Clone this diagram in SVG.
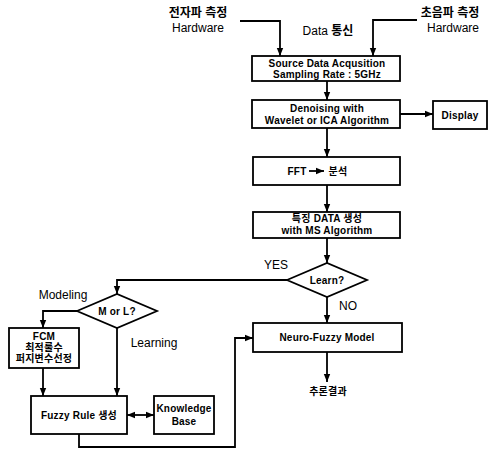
<svg xmlns="http://www.w3.org/2000/svg" width="489" height="450" viewBox="0 0 489 450">
<style>
.box{fill:#fff;stroke:#000;stroke-width:1.8}
.ln{fill:none;stroke:#000;stroke-width:1.8}
.t{font-family:"Liberation Sans","Noto Sans CJK KR",sans-serif;font-weight:bold;font-size:10px;letter-spacing:0.2px;text-anchor:middle;fill:#000}
.l{font-family:"Liberation Sans","Noto Sans CJK KR",sans-serif;font-size:12px;text-anchor:middle;fill:#000}
</style>
<defs>
<marker id="ah" markerUnits="userSpaceOnUse" markerWidth="8" markerHeight="8" viewBox="0 0 8 8" refX="8" refY="4" orient="auto">
<path d="M0,0.8 L8,4 L0,7.2 Z" fill="#000"/>
</marker>
<marker id="as" markerUnits="userSpaceOnUse" markerWidth="8" markerHeight="8" viewBox="0 0 8 8" refX="0" refY="4" orient="auto">
<path d="M8,0.8 L0,4 L8,7.2 Z" fill="#000"/>
</marker>
</defs>
<rect width="489" height="450" fill="#fff"/>

<g id="labels">
<text class="l" x="198" y="17" font-weight="bold">전자파 측정</text>
<text class="l" x="198" y="32">Hardware</text>
<text class="l" x="450" y="17" font-weight="bold">초음파 측정</text>
<text class="l" x="453" y="32">Hardware</text>
<text class="l" x="328" y="35">Data <tspan font-weight="bold">통신</tspan></text>
<text class="l" x="276" y="269">YES</text>
<text class="l" x="348" y="310">NO</text>
<text class="l" x="63" y="299">Modeling</text>
<text class="l" x="154" y="347">Learning</text>
<text class="t" x="328" y="395" font-size="11">추론결과</text>
</g>

<g id="connectors">
<path class="ln" d="M240,21 H280 V56" marker-end="url(#ah)"/>
<path class="ln" d="M417,20 H373 V56" marker-end="url(#ah)"/>
<path class="ln" d="M327,81 V100" marker-end="url(#ah)"/>
<path class="ln" d="M400,114 H433" marker-end="url(#ah)"/>
<path class="ln" d="M327,128 V157" marker-end="url(#ah)"/>
<path class="ln" d="M327,185 V212" marker-end="url(#ah)"/>
<path class="ln" d="M327,238 V263" marker-end="url(#ah)"/>
<path class="ln" d="M327,297 V323" marker-end="url(#ah)"/>
<path class="ln" d="M327,352 V382" marker-end="url(#ah)"/>
<path class="ln" d="M287,280 H117 V294" marker-end="url(#ah)"/>
<path class="ln" d="M77,311 H43 V328" marker-end="url(#ah)"/>
<path class="ln" d="M43,368 V396" marker-end="url(#ah)"/>
<path class="ln" d="M117,328 V396" marker-end="url(#ah)"/>
<path class="ln" d="M127,415 H154" marker-start="url(#as)" marker-end="url(#ah)"/>
<path class="ln" d="M79,434 V447 H235 V338 H253" marker-end="url(#ah)"/>
</g>

<g id="n-source">
<rect class="box" x="252" y="56" width="148" height="25"/>
<text class="t" x="327" y="66.5">Source Data Acqusition</text>
<text class="t" x="327" y="78">Sampling Rate : 5GHz</text>
</g>
<g id="n-denoise">
<rect class="box" x="252" y="100" width="148" height="28"/>
<text class="t" x="327" y="111.5">Denoising with</text>
<text class="t" x="327" y="123.5">Wavelet or ICA Algorithm</text>
</g>
<g id="n-display">
<rect class="box" x="433" y="101" width="54" height="28"/>
<text class="t" x="460" y="118.5">Display</text>
</g>
<g id="n-fft">
<rect class="box" x="253" y="157" width="147" height="28"/>
<text class="t" x="297" y="174.5">FFT</text>
<path class="ln" d="M309,171 H324" stroke-width="2.2" marker-end="url(#ah)"/>
<text class="t" x="338" y="174.5">분석</text>
</g>
<g id="n-feature">
<rect class="box" x="253" y="212" width="147" height="26"/>
<text class="t" x="327" y="222">특징 DATA 생성</text>
<text class="t" x="327" y="234">with MS Algorithm</text>
</g>
<g id="n-learn">
<polygon class="box" points="287,280 327,263 367,280 327,297"/>
<text class="t" x="327" y="283.5">Learn?</text>
</g>
<g id="n-neuro">
<rect class="box" x="253" y="323" width="149" height="29"/>
<text class="t" x="327" y="341">Neuro-Fuzzy Model</text>
</g>
<g id="n-mol">
<polygon class="box" points="77,311 117,294 157,311 117,328"/>
<text class="t" x="117" y="314.5">M or L?</text>
</g>
<g id="n-fcm">
<rect class="box" x="9" y="328" width="70" height="40"/>
<text class="t" x="44" y="339.5">FCM</text>
<text class="t" x="44" y="350.5">최적룰수</text>
<text class="t" x="44" y="361.5">퍼지변수선정</text>
</g>
<g id="n-fuzzy">
<rect class="box" x="31" y="396" width="96" height="38"/>
<text class="t" x="79" y="418.5">Fuzzy Rule 생성</text>
</g>
<g id="n-kb">
<rect class="box" x="154" y="396" width="60" height="38"/>
<text class="t" x="184" y="411.5">Knowledge</text>
<text class="t" x="184" y="425">Base</text>
</g>
</svg>
